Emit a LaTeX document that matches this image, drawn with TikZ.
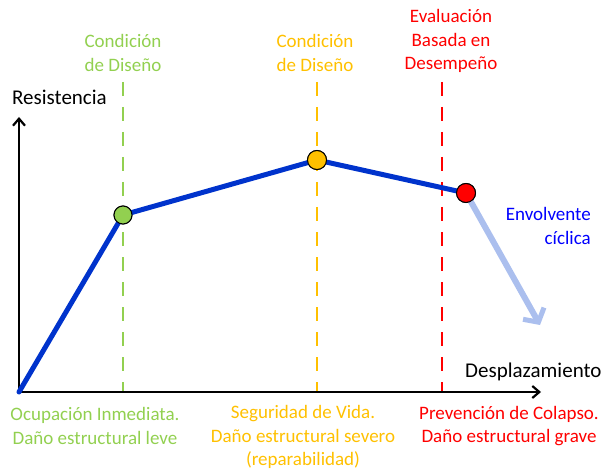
\documentclass[tikz,border=0pt]{standalone}
\usepackage{fontspec}
\setmainfont{Carlito}
\usetikzlibrary{arrows.meta}
\definecolor{cgreen}{HTML}{92D050}
\definecolor{corange}{HTML}{FFC000}
\definecolor{cred}{HTML}{FF0000}
\definecolor{cblue}{HTML}{0033CC}
\definecolor{clight}{HTML}{ABBFEE}
\definecolor{ctext}{HTML}{0000FF}
\begin{document}
\begin{tikzpicture}[x=1bp,y=-1bp,
  lbl/.style={font=\fontsize{19bp}{23.5bp}\selectfont, align=center, inner sep=0pt},
  blbl/.style={font=\fontsize{21bp}{24bp}\selectfont, inner sep=0pt},
  vline/.style={line width=2.6bp, dash pattern=on 14bp off 11bp},
  dot/.style={circle, draw=black, line width=1bp, minimum size=19bp, inner sep=0pt},
  axis/.style={line width=2.6bp, -{Straight Barb[length=7bp,width=12bp,line width=2.2bp]}}]
\useasboundingbox (0,0) rectangle (606,469);
% coordinates
\coordinate (O) at (19,392);
\coordinate (xend) at (541,392);
\coordinate (yend) at (19,117);
\coordinate (g0) at (123,82); \coordinate (g1) at (123,392);
\coordinate (o0) at (317,82); \coordinate (o1) at (317,392);
\coordinate (r0) at (442,82); \coordinate (r1) at (442,392);
% dashed lines
\draw[vline, cgreen] (g0) -- (g1);
\draw[vline, corange] (o0) -- (o1);
\draw[vline, cred] (r0) -- (r1);
% axes
\draw[axis] (O) -- (xend);
\draw[axis] (O) -- (yend);
\node[blbl, anchor=west] (ylab) at (12,97) {Resistencia};
\node[blbl, anchor=west] (xlab) at (465,372) {Desplazamiento};
% points
\node[dot, fill=cgreen, minimum size=18bp] (P1) at (123,215) {};
\node[dot, fill=corange] (P2) at (317,160) {};
\node[dot, fill=cred] (P3) at (466,193) {};
\coordinate (tip) at (540,325);
% light arrow
\draw[clight, line width=6bp, -{Straight Barb[length=10bp,width=24bp,line width=5bp]}] (P3.center) -- (tip);
% curve
\draw[cblue, line width=5bp, line join=round, line cap=round] (O) -- (P1.center) -- (P2.center) -- (P3.center);
\node[dot, fill=cgreen, minimum size=18bp] at (123,215) {};
\node[dot, fill=corange] at (317,160) {};
\node[dot, fill=cred] at (466,193) {};
% top labels
\node[lbl, text=cgreen] (tg) at (123,53) {Condición\\de Diseño};
\node[lbl, text=corange] (to) at (315,53) {Condición\\de Diseño};
\node[lbl, text=cred] (tr) at (451,41) {Evaluación\\Basada en\\Desempeño};
\node[lbl, text=ctext, align=right, anchor=east] (env) at (591,226) {Envolvente\\cíclica};
% bottom labels
\node[lbl, text=cgreen] (bg) at (95,426) {Ocupación Inmediata.\\Daño estructural leve};
\node[lbl, text=corange] (bo) at (303,437) {Seguridad de Vida.\\Daño estructural severo\\(reparabilidad)};
\node[lbl, text=cred] (br) at (509,426) {Prevención de Colapso.\\Daño estructural grave};
\end{tikzpicture}
\end{document}
